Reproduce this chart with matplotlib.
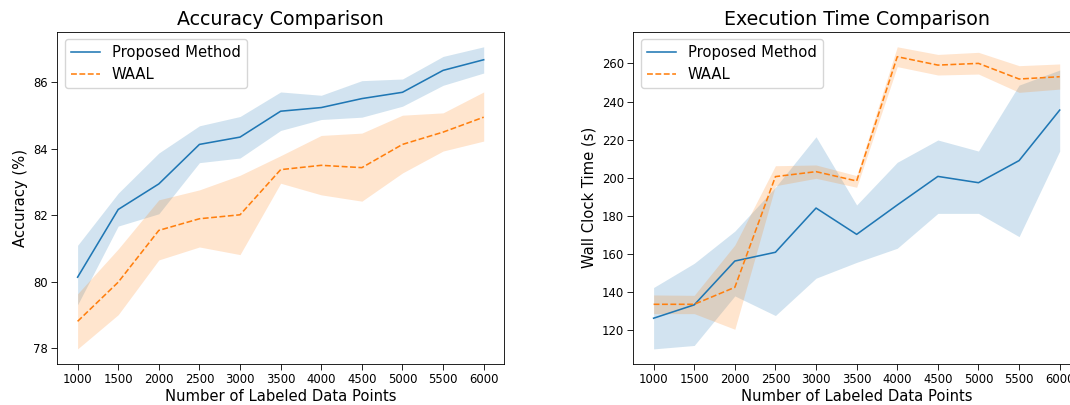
import matplotlib
matplotlib.use('Agg')
import matplotlib.pyplot as plt
import numpy as np

# reference looks like a default-style plot shrunk by about 0.76
S = 0.76

labeled = [1000, 1500, 2000, 2500, 3000, 3500, 4000, 4500, 5000, 5500, 6000]

# accuracy (%)
acc_prop = [80.13, 82.17, 82.94, 84.13, 84.35, 85.13, 85.24, 85.51, 85.70, 86.36, 86.68]
acc_prop_hi = [81.09, 82.66, 83.87, 84.69, 84.97, 85.71, 85.61, 86.05, 86.10, 86.78, 87.07]
acc_prop_lo = [79.30, 81.67, 82.04, 83.58, 83.72, 84.55, 84.88, 84.95, 85.28, 85.91, 86.28]
acc_waal = [78.80, 79.98, 81.54, 81.89, 82.01, 83.37, 83.50, 83.43, 84.13, 84.50, 84.95]
acc_waal_hi = [79.63, 80.98, 82.46, 82.76, 83.20, 83.79, 84.40, 84.47, 85.01, 85.08, 85.71]
acc_waal_lo = [77.97, 79.00, 80.65, 81.04, 80.81, 82.96, 82.61, 82.42, 83.27, 83.93, 84.23]

# wall clock time (s)
time_prop = [126.3, 133.3, 156.3, 160.9, 184.1, 170.3, 185.7, 200.7, 197.4, 209.0, 235.5]
time_prop_hi = [142.4, 155.1, 172.0, 195.0, 221.5, 185.7, 208.1, 219.8, 214.0, 248.6, 256.5]
time_prop_lo = [110.2, 112.0, 138.0, 127.7, 147.3, 155.6, 163.0, 181.3, 181.3, 169.1, 214.0]
time_waal = [133.6, 133.6, 142.5, 200.6, 203.2, 198.3, 263.5, 259.1, 260.0, 251.8, 253.0]
time_waal_hi = [138.5, 138.3, 164.7, 206.3, 206.7, 201.1, 268.7, 264.7, 265.8, 258.8, 259.7]
time_waal_lo = [128.7, 128.7, 120.5, 195.8, 199.7, 195.0, 258.3, 253.9, 254.4, 244.8, 246.5]

plt.rcParams.update({
    'font.family': 'DejaVu Sans',
    'axes.linewidth': 0.8 * S,
    'xtick.major.size': 4.0,
    'ytick.major.size': 4.4,
    'xtick.major.width': 0.8 * S,
    'ytick.major.width': 0.8 * S,
    'xtick.major.pad': 2.4,
    'ytick.major.pad': 2.4,
    'xtick.labelsize': 8.4,
    'ytick.labelsize': 8.4,
    'axes.labelpad': 4.0,
    'axes.titlepad': 6 * S,
})

fig = plt.figure(figsize=(10.70, 4.05), dpi=100)
# right panel runs past the figure edge, as in the reference crop
ax1 = fig.add_axes([0.05355, 0.10123, 0.41748, 0.8205])
ax2 = fig.add_axes([0.59187, 0.10123, 0.41748, 0.8205])


def draw(ax, prop, prop_lo, prop_hi, waal, waal_lo, waal_hi):
    ax.plot(labeled, prop, color='C0', lw=1.5 * S, label='Proposed Method')
    ax.fill_between(labeled, prop_lo, prop_hi, color='C0', alpha=0.2, lw=0)
    ax.plot(labeled, waal, color='C1', lw=1.5 * S, ls='--', label='WAAL')
    ax.fill_between(labeled, waal_lo, waal_hi, color='C1', alpha=0.2, lw=0)
    ax.set_xticks(labeled)
    ax.set_xlabel('Number of Labeled Data Points', fontsize=14 * S, labelpad=2.5)
    ax.legend(loc='upper left', fontsize=14 * S)


draw(ax1, acc_prop, acc_prop_lo, acc_prop_hi, acc_waal, acc_waal_lo, acc_waal_hi)
ax1.set_ylabel('Accuracy (%)', fontsize=14 * S)
ax1.set_title('Accuracy Comparison', fontsize=18 * S)

draw(ax2, time_prop, time_prop_lo, time_prop_hi, time_waal, time_waal_lo, time_waal_hi)
ax2.set_ylabel('Wall Clock Time (s)', fontsize=14 * S)
ax2.set_title('Execution Time Comparison', fontsize=18 * S)

fig.savefig('out.png', dpi=100)
